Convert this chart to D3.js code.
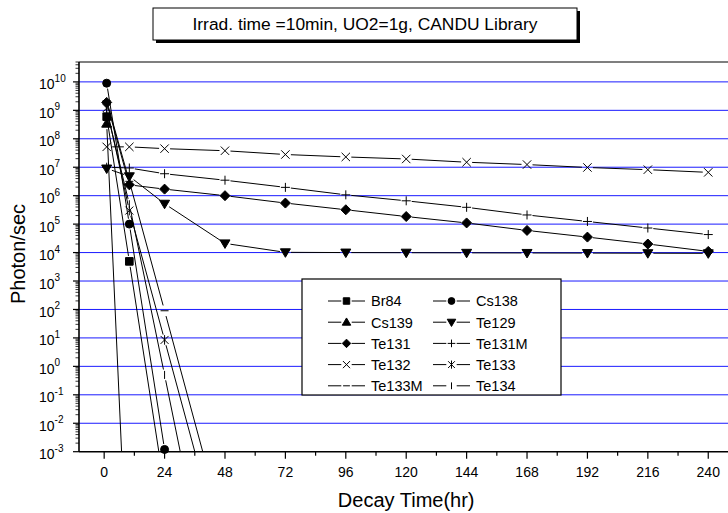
<!DOCTYPE html>
<html>
<head>
<meta charset="utf-8">
<script src="https://cdn.jsdelivr.net/npm/d3@7"></script>
<style>
  body { margin: 0; background: #fff; }
  svg { display: block; font-family: Arial, "Liberation Sans", sans-serif; }
</style>
</head>
<body>
<div id="app"></div>
<script>
// decay times (hr) and photon rates per nuclide
const times = [1, 10, 24, 48, 72, 96, 120, 144, 168, 192, 216, 240]
const br84 = [6e8, 4.9e3, 5e-5]
const cs138 = [9e9, 1e5, 1.2e-3, 1e-16]
const cs139 = [3.4e8, 1e-9]
const te129 = [9e6, 4.8e6, 5.2e5, 2.1e4, 1.02e4, 1e4, 9.9e3, 9.8e3, 9.7e3, 9.6e3, 9.5e3, 9.4e3]
const te131 = [1.9e9, 2.4e6, 1.7e6, 1e6, 5.5e5, 3.2e5, 1.85e5, 1.1e5, 6e4, 3.5e4, 2e4, 1.1e4]
const te131m = [1e7, 9.4e6, 5.9e6, 3.5e6, 1.96e6, 1.07e6, 6.6e5, 3.9e5, 2.1e5, 1.24e5, 7.3e4, 4.3e4]
const te132 = [5.2e7, 5.2e7, 4.5e7, 3.8e7, 2.8e7, 2.3e7, 1.95e7, 1.5e7, 1.24e7, 9.8e6, 8.2e6, 6.6e6]
const te133 = [1.2e9, 3e5, 8.5, 1.2e-7]
const te133m = [2.2e9, 3.2e6, 90, 1.3e-6]
const te134 = [1e9, 5e5, 0.5, 2e-11]

const seriesNames = ['Br84', 'Cs138', 'Cs139', 'Te129', 'Te131', 'Te131M', 'Te132', 'Te133', 'Te133M', 'Te134']
const seriesValues = [br84, cs138, cs139, te129, te131, te131m, te132, te133, te133m, te134]
const symbolKinds = ['square', 'circle', 'triUp', 'triDown', 'diamond', 'plus', 'cross', 'asterisk', 'dash', 'bar']

const xTicks = d3.range(0, 241, 24)
const xMinor = d3.range(12, 241, 24)
const yExponents = d3.range(-3, 11)
const titleText = 'Irrad. time =10min, UO2=1g, CANDU Library'

const W = 728, H = 513
const plot = { left: 79, top: 62, bottom: 451.7 }

const svg = d3.select('#app').append('svg')
  .attr('width', W)
  .attr('height', H)

const x = d3.scaleLinear()
  .domain([-10, 250])
  .range([plot.left, plot.left + 260 * 2.517])
const y = d3.scaleLog()
  .domain([1e-3, 5e10])
  .range([plot.bottom, plot.top])

svg.append('clipPath').attr('id', 'clip')
  .append('rect')
  .attr('x', plot.left).attr('y', plot.top)
  .attr('width', W - plot.left).attr('height', plot.bottom - plot.top)

// blue decade grid
svg.append('g')
  .selectAll('line')
  .data(yExponents.filter(e => e > -3))
  .enter()
  .append('line')
  .attr('x1', plot.left).attr('x2', W)
  .attr('y1', e => y(Math.pow(10, e)))
  .attr('y2', e => y(Math.pow(10, e)))
  .attr('stroke', '#1a1aff')
  .attr('stroke-width', 1)

// marker shapes
function symbolPath(kind, s = 1) {
  const r = 4 * s
  switch (kind) {
    case 'square': return `M${-3.8 * s},${-3.8 * s}h${7.6 * s}v${7.6 * s}h${-7.6 * s}Z`
    case 'circle': return `M${-r},0a${r},${r} 0 1,0 ${2 * r},0a${r},${r} 0 1,0 ${-2 * r},0Z`
    case 'triUp': return `M0,${-5 * s}L${5 * s},${3.5 * s}L${-5 * s},${3.5 * s}Z`
    case 'triDown': return `M0,${5 * s}L${5 * s},${-3.5 * s}L${-5 * s},${-3.5 * s}Z`
    case 'diamond': return `M0,${-5 * s}L${5 * s},0L0,${5 * s}L${-5 * s},0Z`
    case 'plus': return `M${-4.5 * s},0H${4.5 * s}M0,${-4.5 * s}V${4.5 * s}`
    case 'cross': return `M${-4.2 * s},${-4.2 * s}L${4.2 * s},${4.2 * s}M${-4.2 * s},${4.2 * s}L${4.2 * s},${-4.2 * s}`
    case 'asterisk': return `M${-4 * s},${-4 * s}L${4 * s},${4 * s}M${-4 * s},${4 * s}L${4 * s},${-4 * s}M0,${-4.8 * s}V${4.8 * s}`
    case 'dash': return `M${-4 * s},0H${4 * s}`
    case 'bar': return `M0,${-4 * s}V${4 * s}`
  }
}
const filled = k => ['square', 'circle', 'triUp', 'triDown', 'diamond'].includes(k)

// line segments stop short of each marker
const gap = 5.5
function segmentsOf(vals) {
  const pts = vals.map((v, i) => [x(times[i]), y(v)])
  const segs = []
  for (let i = 0; i < pts.length - 1; i++) {
    const [x1, y1] = pts[i]
    const [x2, y2] = pts[i + 1]
    const len = Math.hypot(x2 - x1, y2 - y1)
    if (len <= 2 * gap) continue
    const ux = (x2 - x1) / len, uy = (y2 - y1) / len
    segs.push([x1 + ux * gap, y1 + uy * gap, x2 - ux * gap, y2 - uy * gap])
  }
  return segs
}

const gLines = svg.append('g').attr('clip-path', 'url(#clip)')
seriesValues.forEach(vals => {
  gLines.append('g')
    .selectAll('line')
    .data(segmentsOf(vals))
    .enter()
    .append('line')
    .attr('x1', d => d[0]).attr('y1', d => d[1])
    .attr('x2', d => d[2]).attr('y2', d => d[3])
    .attr('stroke', '#000')
    .attr('stroke-width', 1)
})

const gMarks = svg.append('g')
seriesValues.forEach((vals, si) => {
  const kind = symbolKinds[si]
  gMarks.append('g')
    .selectAll('path')
    .data(vals.map((v, i) => [times[i], v]).filter(d => d[1] >= 1e-3))
    .enter()
    .append('path')
    .attr('transform', d => `translate(${x(d[0])},${y(d[1])})`)
    .attr('d', symbolPath(kind))
    .attr('fill', filled(kind) ? '#000' : 'none')
    .attr('stroke', '#000')
    .attr('stroke-width', 1)
})

// frame
const axisG = svg.append('g').attr('stroke', '#000')
axisG.append('line')
  .attr('x1', plot.left).attr('x2', W)
  .attr('y1', plot.top).attr('y2', plot.top)
  .attr('stroke-width', 1.2)
axisG.append('line')
  .attr('x1', plot.left).attr('x2', W)
  .attr('y1', plot.bottom).attr('y2', plot.bottom)
  .attr('stroke-width', 1.6)
axisG.append('line')
  .attr('x1', plot.left).attr('x2', plot.left)
  .attr('y1', plot.top).attr('y2', plot.bottom)
  .attr('stroke-width', 1.6)

// x ticks
axisG.selectAll('.xmaj').data(xTicks).enter().append('line')
  .attr('x1', d => x(d)).attr('x2', d => x(d))
  .attr('y1', plot.bottom).attr('y2', plot.bottom + 7)
  .attr('stroke-width', 1.2)
axisG.selectAll('.xmin').data(xMinor).enter().append('line')
  .attr('x1', d => x(d)).attr('x2', d => x(d))
  .attr('y1', plot.bottom).attr('y2', plot.bottom + 4)
  .attr('stroke-width', 1.2)
svg.append('g')
  .selectAll('text')
  .data(xTicks)
  .enter()
  .append('text')
  .attr('x', d => x(d))
  .attr('y', 477)
  .attr('text-anchor', 'middle')
  .attr('font-size', 14)
  .text(d => d)

// y ticks
const yMinor = []
yExponents.forEach(e => {
  for (let m = 2; m <= 9; m++) {
    const v = m * Math.pow(10, e)
    if (v <= 5e10) yMinor.push(v)
  }
})
axisG.selectAll('.ymaj').data(yExponents).enter().append('line')
  .attr('x1', plot.left - 6).attr('x2', plot.left)
  .attr('y1', e => y(Math.pow(10, e))).attr('y2', e => y(Math.pow(10, e)))
  .attr('stroke-width', 1.2)
axisG.selectAll('.ymin').data(yMinor).enter().append('line')
  .attr('x1', plot.left - 3.5).attr('x2', plot.left)
  .attr('y1', d => y(d)).attr('y2', d => y(d))
  .attr('stroke-width', 0.8)
const yLab = svg.append('g')
  .selectAll('text')
  .data(yExponents)
  .enter()
  .append('text')
  .attr('x', 39)
  .attr('y', e => y(Math.pow(10, e)) + 7.5)
  .attr('font-size', 14)
yLab.append('tspan').text('10')
yLab.append('tspan')
  .attr('dy', -7.5)
  .attr('font-size', 10)
  .text(e => e)

// axis titles
svg.append('text')
  .attr('x', (plot.left + x(250)) / 2)
  .attr('y', 507)
  .attr('text-anchor', 'middle')
  .attr('font-size', 20)
  .text('Decay Time(hr)')
svg.append('text')
  .attr('transform', 'translate(25,254) rotate(-90)')
  .attr('text-anchor', 'middle')
  .attr('font-size', 20)
  .text('Photon/sec')

// legend
const legend = { x: 302, y: 279, w: 259, h: 116, row: 21.2, cols: [328, 433] }
const gLeg = svg.append('g')
gLeg.append('rect')
  .attr('x', legend.x).attr('y', legend.y)
  .attr('width', legend.w).attr('height', legend.h)
  .attr('fill', '#fff')
  .attr('stroke', '#000')
  .attr('stroke-width', 1.2)
seriesNames.forEach((name, i) => {
  const lx = legend.cols[i % 2]
  const ly = legend.y + 22 + Math.floor(i / 2) * legend.row
  const cx = lx + 18.5
  const k = symbolKinds[i]
  const item = gLeg.append('g')
  item.append('path')
    .attr('d', `M${lx},${ly}H${cx - 5.2}M${cx + 5.2},${ly}H${lx + 37}`)
    .attr('stroke', '#000')
  item.append('path')
    .attr('transform', `translate(${cx},${ly})`)
    .attr('d', symbolPath(k, 0.85))
    .attr('fill', filled(k) ? '#000' : 'none')
    .attr('stroke', '#000')
  item.append('text')
    .attr('x', lx + 43)
    .attr('y', ly + 5.3)
    .attr('font-size', 14.5)
    .text(name)
})

// title box with drop shadow
const tb = { x: 153, y: 8, w: 424, h: 32 }
svg.append('rect')
  .attr('x', tb.x + 3).attr('y', tb.y + 3)
  .attr('width', tb.w).attr('height', tb.h)
  .attr('fill', '#000')
svg.append('rect')
  .attr('x', tb.x).attr('y', tb.y)
  .attr('width', tb.w).attr('height', tb.h)
  .attr('fill', '#fff')
  .attr('stroke', '#000')
  .attr('stroke-width', 1)
svg.append('text')
  .attr('x', tb.x + tb.w / 2)
  .attr('y', tb.y + 22)
  .attr('text-anchor', 'middle')
  .attr('font-size', 17.4)
  .text(titleText)
</script>
</body>
</html>
